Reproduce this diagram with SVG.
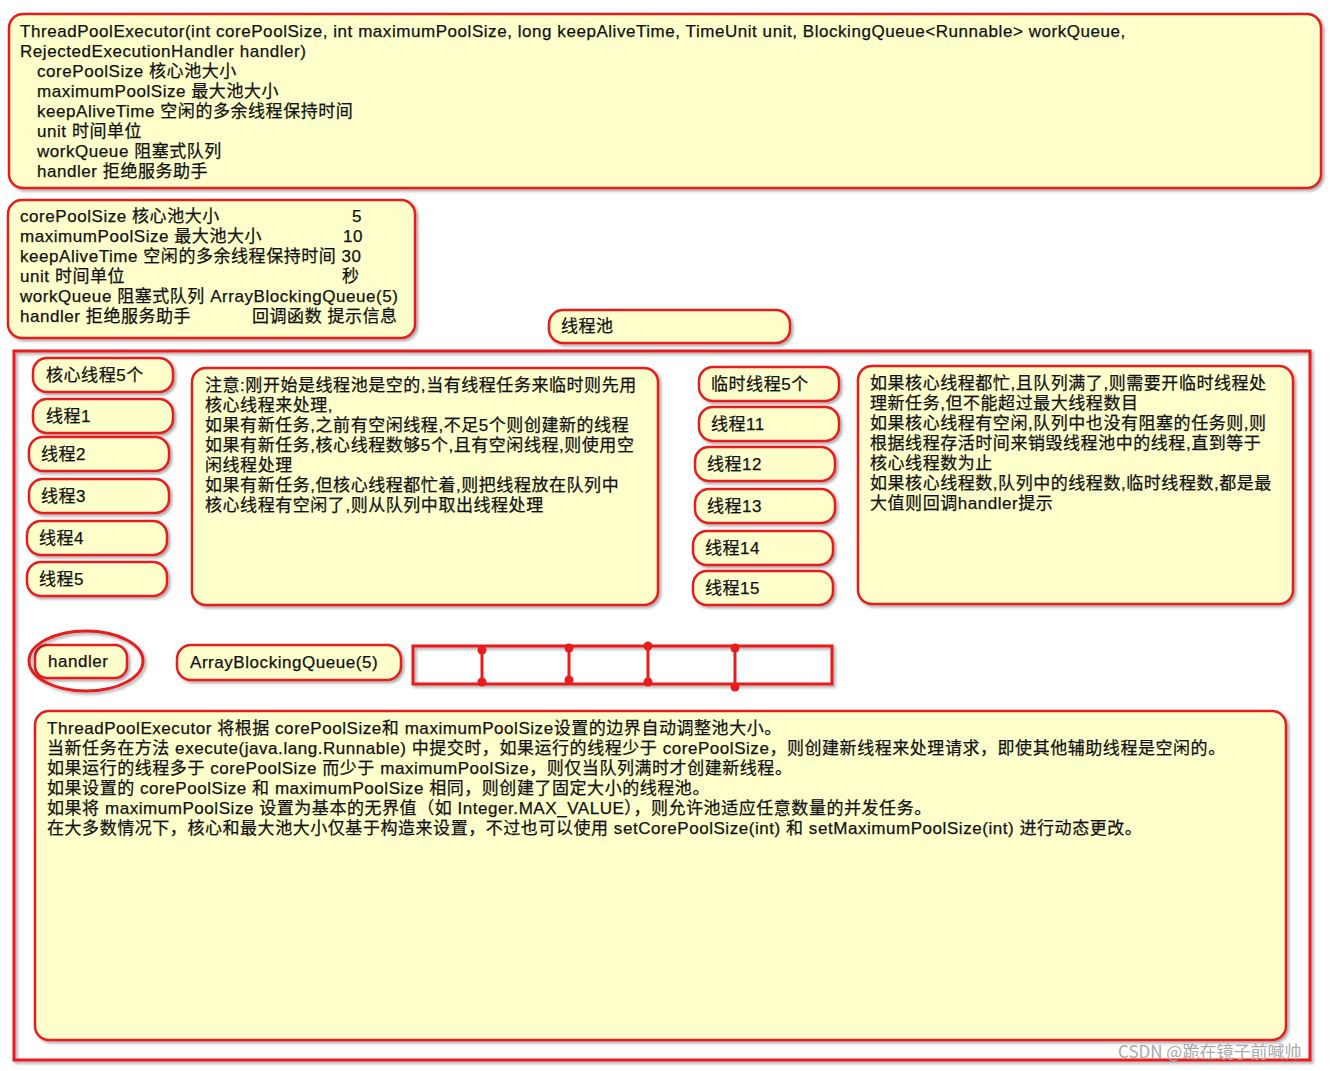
<svg xmlns="http://www.w3.org/2000/svg" width="1344" height="1071" viewBox="0 0 1344 1071">
<defs>
<filter id="sh" x="-5%" y="-5%" width="110%" height="120%"><feDropShadow dx="2" dy="2" stdDeviation="1.5" flood-color="#000" flood-opacity="0.35"/></filter>
<style>
.b{fill:#ffffcc;stroke:#e81c1c;stroke-width:2.5;filter:url(#sh)}
.t{font-family:"Liberation Sans","Noto Sans CJK SC",sans-serif;font-size:17px;letter-spacing:0.55px;fill:#111;stroke:#111;stroke-width:0.25}
.q{fill:none;stroke:#e81c1c;stroke-width:3}
.d{fill:#e81c1c}
</style>
</defs>
<rect width="1344" height="1071" fill="#fff"/>
<g id="ctor">
<rect class="b" x="9" y="14" width="1312" height="174" rx="14"/>
<text class="t" x="20" y="37">ThreadPoolExecutor(int corePoolSize, int maximumPoolSize, long keepAliveTime, TimeUnit unit, BlockingQueue&lt;Runnable&gt; workQueue,</text>
<text class="t" x="20" y="57">RejectedExecutionHandler handler)</text>
<text class="t" x="37" y="77">corePoolSize 核心池大小</text>
<text class="t" x="37" y="97">maximumPoolSize 最大池大小</text>
<text class="t" x="37" y="117">keepAliveTime 空闲的多余线程保持时间</text>
<text class="t" x="37" y="137">unit 时间单位</text>
<text class="t" x="37" y="157">workQueue 阻塞式队列</text>
<text class="t" x="37" y="177">handler 拒绝服务助手</text>
</g>
<g id="params">
<rect class="b" x="8" y="200" width="407" height="138" rx="14"/>
<text class="t" x="20" y="222">corePoolSize 核心池大小</text><text class="t" x="352" y="222">5</text>
<text class="t" x="20" y="242">maximumPoolSize 最大池大小</text><text class="t" x="343" y="242">10</text>
<text class="t" x="20" y="262">keepAliveTime 空闲的多余线程保持时间 30</text>
<text class="t" x="20" y="282">unit 时间单位</text><text class="t" x="342" y="282">秒</text>
<text class="t" x="20" y="302">workQueue 阻塞式队列  ArrayBlockingQueue(5)</text>
<text class="t" x="20" y="322">handler 拒绝服务助手</text><text class="t" x="252" y="322">回调函数 提示信息</text>
</g>
<g id="pool-title">
<rect class="b" x="549" y="310" width="241" height="33" rx="14"/>
<text class="t" x="561" y="332">线程池</text>
</g>
<g id="pool">
<rect x="14" y="351" width="1296" height="709" fill="none" stroke="#e81c1c" stroke-width="3" filter="url(#sh)"/>
</g>
<g id="core">
<rect class="b" x="33" y="358" width="140" height="34" rx="14"/><text class="t" x="46" y="381">核心线程5个</text>
<rect class="b" x="33" y="399" width="140" height="34" rx="14"/><text class="t" x="46" y="422">线程1</text>
<rect class="b" x="29" y="437" width="140" height="34" rx="14"/><text class="t" x="41" y="460">线程2</text>
<rect class="b" x="29" y="479" width="140" height="34" rx="14"/><text class="t" x="41" y="502">线程3</text>
<rect class="b" x="27" y="521" width="140" height="34" rx="14"/><text class="t" x="39" y="544">线程4</text>
<rect class="b" x="27" y="562" width="140" height="34" rx="14"/><text class="t" x="39" y="585">线程5</text>
</g>
<g id="note">
<rect class="b" x="192" y="368" width="466" height="237" rx="14"/>
<text class="t" x="205" y="391">注意:刚开始是线程池是空的,当有线程任务来临时则先用</text>
<text class="t" x="205" y="411">核心线程来处理,</text>
<text class="t" x="205" y="431">如果有新任务,之前有空闲线程,不足5个则创建新的线程</text>
<text class="t" x="205" y="451">如果有新任务,核心线程数够5个,且有空闲线程,则使用空</text>
<text class="t" x="205" y="471">闲线程处理</text>
<text class="t" x="205" y="491">如果有新任务,但核心线程都忙着,则把线程放在队列中</text>
<text class="t" x="205" y="511">核心线程有空闲了,则从队列中取出线程处理</text>
</g>
<g id="temp">
<rect class="b" x="699" y="367" width="140" height="34" rx="14"/><text class="t" x="711" y="390">临时线程5个</text>
<rect class="b" x="699" y="407" width="140" height="34" rx="14"/><text class="t" x="711" y="430">线程11</text>
<rect class="b" x="695" y="447" width="140" height="34" rx="14"/><text class="t" x="707" y="470">线程12</text>
<rect class="b" x="695" y="489" width="140" height="34" rx="14"/><text class="t" x="707" y="512">线程13</text>
<rect class="b" x="693" y="531" width="140" height="34" rx="14"/><text class="t" x="705" y="554">线程14</text>
<rect class="b" x="693" y="571" width="140" height="34" rx="14"/><text class="t" x="705" y="594">线程15</text>
</g>
<g id="note2">
<rect class="b" x="858" y="366" width="435" height="238" rx="14"/>
<text class="t" x="870" y="389">如果核心线程都忙,且队列满了,则需要开临时线程处</text>
<text class="t" x="870" y="409">理新任务,但不能超过最大线程数目</text>
<text class="t" x="870" y="429">如果核心线程有空闲,队列中也没有阻塞的任务则,则</text>
<text class="t" x="870" y="449">根据线程存活时间来销毁线程池中的线程,直到等于</text>
<text class="t" x="870" y="469">核心线程数为止</text>
<text class="t" x="870" y="489">如果核心线程数,队列中的线程数,临时线程数,都是最</text>
<text class="t" x="870" y="509">大值则回调handler提示</text>
</g>
<g id="handler">
<rect class="b" x="35" y="645" width="92" height="33" rx="12"/>
<text class="t" x="48" y="667">handler</text>
<ellipse cx="86" cy="661" rx="57" ry="30" fill="none" stroke="#e81c1c" stroke-width="3" filter="url(#sh)"/>
</g>
<g id="abq">
<rect class="b" x="177" y="645" width="224" height="35" rx="14"/>
<text class="t" x="190" y="668">ArrayBlockingQueue(5)</text>
</g>
<g id="queue" filter="url(#sh)">
<rect class="q" x="413" y="646" width="419" height="38"/>
</g>
<g id="connectors">
<line class="q" x1="482" y1="650" x2="482" y2="682"/><circle class="d" cx="482" cy="650" r="4.5"/><circle class="d" cx="482" cy="682" r="4.5"/>
<line class="q" x1="569" y1="648" x2="569" y2="680"/><circle class="d" cx="569" cy="648" r="4.5"/><circle class="d" cx="569" cy="680" r="4.5"/>
<line class="q" x1="648" y1="646" x2="648" y2="682"/><circle class="d" cx="648" cy="646" r="4.5"/><circle class="d" cx="648" cy="682" r="4.5"/>
<line class="q" x1="735" y1="648" x2="735" y2="687"/><circle class="d" cx="735" cy="648" r="4.5"/><circle class="d" cx="735" cy="687" r="4.5"/>
</g>
<g id="doc">
<rect class="b" x="35" y="711" width="1251" height="329" rx="14"/>
<text class="t" x="47" y="734">ThreadPoolExecutor 将根据 corePoolSize和 maximumPoolSize设置的边界自动调整池大小。</text>
<text class="t" x="47" y="754">当新任务在方法 execute(java.lang.Runnable) 中提交时，如果运行的线程少于 corePoolSize，则创建新线程来处理请求，即使其他辅助线程是空闲的。</text>
<text class="t" x="47" y="774">如果运行的线程多于 corePoolSize 而少于 maximumPoolSize，则仅当队列满时才创建新线程。</text>
<text class="t" x="47" y="794">如果设置的 corePoolSize 和 maximumPoolSize 相同，则创建了固定大小的线程池。</text>
<text class="t" x="47" y="814">如果将 maximumPoolSize 设置为基本的无界值（如 Integer.MAX_VALUE），则允许池适应任意数量的并发任务。</text>
<text class="t" x="47" y="834">在大多数情况下，核心和最大池大小仅基于构造来设置，不过也可以使用 setCorePoolSize(int) 和 setMaximumPoolSize(int) 进行动态更改。</text>
</g>
<text x="1118" y="1058" font-family="'Noto Sans CJK SC',sans-serif" font-size="17" fill="#aaa">CSDN @跪在镜子前喊帅</text>
</svg>
